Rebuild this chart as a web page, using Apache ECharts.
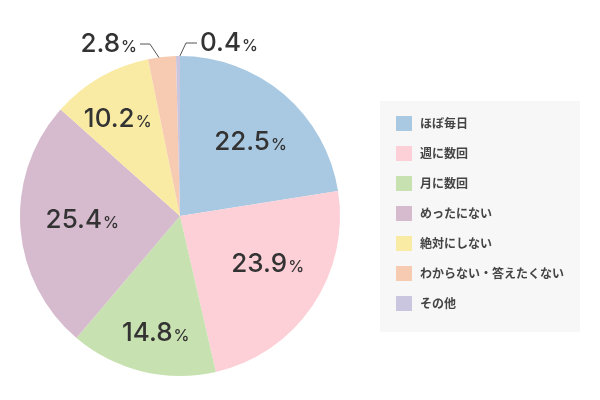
<!DOCTYPE html>
<html><head><meta charset="utf-8">
<script src="https://cdn.jsdelivr.net/npm/echarts@6/dist/echarts.min.js"></script>
<style>html,body{margin:0;padding:0;background:#fff}#c{width:600px;height:400px}</style>
</head><body><div id="c"></div>
<script>
const categories = ['ほぼ毎日', '週に数回', '月に数回', 'めったにない', '絶対にしない', 'わからない・答えたくない', 'その他'];
const values = [22.5, 23.9, 14.8, 25.4, 10.2, 2.8, 0.4];
const colors = ['#a9c9e2', '#fdcfd6', '#c8e1b1', '#d6bacd', '#f9eba4', '#f6cbb1', '#cbc6df'];

// small nudges for the inside labels (style only)
const labelNudge = [[1, 8], [-1, -12], [1, 13], [9, -3], [-9, -4]];

const chart = echarts.init(document.getElementById('c'));
const rich = {
  n: {fontSize: 26, fontWeight: 500, color: '#333', fontFamily: 'Inter'},
  p: {fontSize: 16, fontWeight: 500, color: '#333', fontFamily: 'Inter', padding: [6, 0, 0, 1]}
};
const fmt = p => '{n|' + p.value + '}{p|%}';

chart.setOption({
  animation: false,
  color: colors,
  legend: {
    orient: 'vertical', left: 380, top: 101,
    backgroundColor: '#f7f7f7',
    padding: [15, 16, 21, 16],
    itemWidth: 16, itemHeight: 15, itemGap: 15,
    selectedMode: false,
    icon: 'rect',
    data: categories.map((c, i) => ({name: c, itemStyle: {color: colors[i]}})),
    textStyle: {fontSize: 12, fontWeight: 'bold', color: '#444', lineHeight: 15,
      fontFamily: 'Noto Sans CJK JP', padding: [0, 0, 0, 3]}
  },
  series: [{
    type: 'pie', center: [180, 216], radius: 160, startAngle: 90, clockwise: true,
    silent: true,
    data: values.map((v, i) => ({
      name: categories[i], value: v,
      label: {show: i === 5 || i === 6},
      labelLine: {show: i === 5 || i === 6}
    })),
    label: {position: 'outside', formatter: fmt, rich: rich, overflow: 'none', width: 100},
    labelLine: {lineStyle: {color: '#555', width: 1}},
    labelLayout: function (params) {
      if (params.dataIndex !== 5 && params.dataIndex !== 6) return {};
      const p0 = params.labelLinePoints[0];
      if (params.dataIndex === 5) {
        return {
          x: p0[0] - 25, y: p0[1] - 13, align: 'right', verticalAlign: 'middle',
          labelLinePoints: [[p0[0], p0[1] + 5], [p0[0] - 12, p0[1] - 13], [p0[0] - 22, p0[1] - 13]]
        };
      }
      return {
        x: p0[0] + 22, y: p0[1] - 13, align: 'left', verticalAlign: 'middle',
        labelLinePoints: [[p0[0], p0[1] + 4], [p0[0] + 8, p0[1] - 13], [p0[0] + 19, p0[1] - 13]]
      };
    }
  }, {
    type: 'pie', center: [180, 216], radius: [48, 160], startAngle: 90, clockwise: true,
    silent: true,
    itemStyle: {color: 'rgba(0,0,0,0)'},
    data: values.map((v, i) => ({
      name: categories[i], value: v,
      label: {show: i < 5, offset: labelNudge[i] || [0, 0]}
    })),
    label: {position: 'inside', formatter: fmt, rich: rich},
    labelLine: {show: false}
  }]
});
</script></body></html>
